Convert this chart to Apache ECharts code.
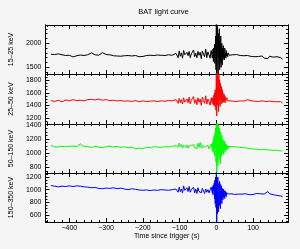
<!DOCTYPE html>
<html><head><meta charset="utf-8">
<script src="https://cdn.jsdelivr.net/npm/echarts@6/dist/echarts.min.js"></script>
<style>html,body{margin:0;padding:0;background:#f5f5f5}#c{width:300px;height:249px}</style>
</head><body><div id="c"></div><script>
// time since trigger (s)
const times = [
-450,-440,-430,-420,-410,-400,-390,-380,-370,-360,-350,-340,-330,-320,-310,-300,-290,-280,-270,-260,-250,-240,-230,-220,-210,-200,-190,-180,-170,-160,-150,-140,-130,-120,-110,
-107,-104,-101,-98,-95,-92,-89,-86,-83,-80,-77,-74,-71,-68,-65,-62,-59,-56,-53,-50,-47,-44,-41,-38,-35,-32,-29,-26,-23,-20,-17,-14,
-12,-11,-10,-9,-8,-7,-6,-5,-4,-3,-2,-1,0,1,2,3,4,5,6,7,8,9,10,11,12,13,14,15,16,17,18,19,20,21,22,23,24,25,26,27,28,29,30,31,32,33,34,35,36,
40,45,50,55,60,65,70,75,80,85,90,95,100,105,110,115,120,125,130,135,140,145,150,155,160,165,170,175,180];

const rate15_25 = [
1770,1765,1780,1760,1745,1750,1715,1740,1755,1745,1760,1800,1760,1750,1805,1765,1760,1740,1735,1730,1740,1745,1735,1745,1720,1725,1745,1750,1745,1755,1750,1745,1760,1750,1790,
1820,1700,1840,1730,1800,1690,1850,1760,1720,1810,1740,1830,1700,1780,1760,1860,1720,1790,1700,1830,1750,1810,1680,1840,1770,1720,1880,1700,1820,1760,1690,1850,
1820,1690,1760,1880,1620,1900,1700,1980,1580,1850,2150,1450,2500,1350,1900,2350,1500,1300,2200,1700,2300,1450,1950,1600,2150,1500,1850,2000,1550,1900,1650,1950,1700,1820,1650,1900,1720,1800,1690,1850,1740,1790,1830,1720,1800,1760,1790,1750,1780,
1770,1760,1755,1765,1750,1745,1755,1740,1735,1745,1730,1725,1735,1720,1715,1725,1700,1735,1690,1720,1680,1730,1690,1710,1670,1720,1680,1700,1670];

const rate25_50 = [
1475,1460,1480,1455,1485,1470,1490,1475,1480,1470,1490,1495,1485,1500,1480,1490,1475,1480,1470,1475,1465,1470,1460,1475,1455,1470,1460,1465,1470,1460,1470,1465,1475,1470,1490,
1500,1430,1510,1440,1490,1420,1520,1450,1430,1500,1440,1530,1420,1480,1460,1540,1430,1490,1410,1520,1450,1500,1400,1530,1470,1430,1550,1420,1500,1460,1400,1520,
1490,1430,1520,1460,1400,1560,1420,1600,1380,1650,1480,1320,1950,1230,1750,1950,1400,1850,1300,1900,1500,1800,1380,1750,1600,1420,1700,1480,1650,1440,1600,1520,1450,1580,1470,1550,1440,1530,1480,1500,1450,1520,1470,1490,1460,1500,1470,1480,1470,
1470,1465,1470,1460,1465,1470,1460,1465,1470,1490,1515,1470,1460,1465,1455,1460,1450,1470,1445,1460,1450,1465,1445,1460,1450,1455,1445,1460,1430];

const rate50_150 = [
1110,1085,1090,1095,1090,1095,1100,1090,1130,1095,1090,1080,1095,1085,1075,1090,1100,1085,1095,1080,1090,1075,1085,1060,1070,1065,1080,1075,1090,1085,1080,1090,1085,1095,1110,
1130,1080,1140,1090,1120,1070,1110,1090,1080,1115,1070,1100,1085,1110,1090,1120,1075,1100,1060,1140,1080,1150,1070,1110,1080,1060,1090,1070,1110,1060,1050,1130,
1120,1040,1150,1010,1200,1060,1240,960,1280,1100,1350,880,1450,700,1300,1420,820,1200,1400,900,1350,1000,1250,850,1300,1100,950,1250,1000,1200,1050,1180,980,1150,1050,1170,1020,1130,1060,1120,1040,1110,1070,1100,1060,1095,1080,1090,1085,
1090,1085,1090,1080,1085,1075,1080,1070,1075,1070,1060,1070,1060,1065,1055,1060,1050,1060,1050,1055,1045,1050,1040,1050,1040,1045,1035,1040,1030];

const rate150_350 = [
1065,1055,1045,1055,1050,1060,1050,1060,1055,1045,1040,1030,1035,1020,1015,1025,1020,1030,1015,1025,1010,1000,1015,1005,995,990,995,985,995,990,1000,995,990,1000,1010,
1030,960,1040,970,1010,950,1060,990,960,1030,970,1050,960,1000,980,1040,950,1010,940,1030,970,1000,950,1020,980,940,1010,960,1000,950,930,1040,
1010,950,1050,920,1070,990,1100,860,1150,780,1200,720,1280,480,1150,620,1200,900,650,1100,750,1130,820,700,1080,850,1050,780,1020,900,840,1010,880,990,920,860,980,910,960,890,950,930,920,950,925,945,930,940,935,
935,930,925,935,930,920,930,925,935,930,920,935,925,930,940,925,935,920,930,945,970,935,930,920,925,910,905,900,890];

const bandNames = ['15\u201325 keV','25\u201350 keV','50\u2013150 keV','150\u2013350 keV'];
const xTickLabels = [-400,-300,-200,-100,0,100];
const xMinorTicks = [-460,-440,-420,-400,-380,-360,-340,-320,-300,-280,-260,-240,-220,-200,-180,-160,-140,-120,-100,-80,-60,-40,-20,0,20,40,60,80,100,120,140,160,180];
const yTickLabels = [[1500,2000],[1200,1400,1600,1800],[800,1000,1200,1400],[600,800,1000,1200]];
const yMinorTicks = [
 [1400,1500,1600,1700,1800,1900,2000,2100,2200,2300],
 [1150,1200,1250,1300,1350,1400,1450,1500,1550,1600,1650,1700,1750,1800,1850],
 [750,800,850,900,950,1000,1050,1100,1150,1200,1250,1300,1350,1400],
 [500,550,600,650,700,750,800,850,900,950,1000,1050,1100,1150,1200,1250]];

const seriesData = [rate15_25, rate25_50, rate50_150, rate150_350];
const colors = ['#000000','#ff0000','#00ff00','#0000ff'];
const yRanges = [[1360,2380],[1100,1900],[720,1410],[490,1263]];
const bounds = [25,74,124,173,222];
const FONT = 'Liberation Sans, Arial, sans-serif';

const grids=[], xAxes=[], yAxes=[], series=[];
for (let i=0;i<4;i++){
  grids.push({left:39,right:12,top:bounds[i],height:bounds[i+1]-bounds[i],containLabel:false});
  const last = i===3;
  const mkX = (pos, ticks, len, showLab) => ({
    type:'value', gridIndex:i, position:pos, min:-465, max:195,
    axisLine:{show:true,onZero:false,lineStyle:{color:'#000',width:1}},
    axisTick:{show:true,inside:true,length:len,customValues:ticks,lineStyle:{color:'#000',width:1}},
    axisLabel:{show:showLab,customValues:xTickLabels,color:'#000',fontSize:7,fontFamily:FONT,margin:3,
      formatter:v=>String(v).replace('-','\u2212')},
    splitLine:{show:false},
    name: (showLab? 'Time since trigger (s)':''), nameLocation:'middle', nameGap:10,
    nameTextStyle:{color:'#000',fontSize:7,fontFamily:FONT}
  });
  xAxes.push(mkX('bottom', xTickLabels, 4, last));
  xAxes.push(mkX('bottom', xMinorTicks, 2, false));
  xAxes.push(mkX('top', xTickLabels, 4, false));
  xAxes.push(mkX('top', xMinorTicks, 2, false));
  const mkY = (pos, ticks, len, showLab) => ({
    type:'value', gridIndex:i, position:pos, min:yRanges[i][0], max:yRanges[i][1],
    axisLine:{show:true,onZero:false,lineStyle:{color:'#000',width:1}},
    axisTick:{show:true,inside:true,length:len,customValues:ticks,lineStyle:{color:'#000',width:1}},
    axisLabel:{show:showLab,customValues:yTickLabels[i],color:'#000',fontSize:7,fontFamily:FONT,margin:4,hideOverlap:false,
      formatter:v=>String(v)},
    splitLine:{show:false},
    name:(showLab? bandNames[i]:''), nameLocation:'middle', nameRotate:90, nameGap:20,
    nameTextStyle:{color:'#000',fontSize:7,fontFamily:FONT}
  });
  yAxes.push(mkY('left', yTickLabels[i], 4, true));
  yAxes.push(mkY('left', yMinorTicks[i], 2, false));
  yAxes.push(mkY('right', yTickLabels[i], 4, false));
  yAxes.push(mkY('right', yMinorTicks[i], 2, false));
  series.push({
    type:'line', xAxisIndex:i*4, yAxisIndex:i*4, showSymbol:false, symbol:'none',
    data: times.map((t,k)=>[t, seriesData[i][k]]),
    lineStyle:{color:colors[i],width:1}, itemStyle:{color:colors[i]}, clip:true, z:1
  });
}

const chart = echarts.init(document.getElementById('c'), null, {renderer:'canvas'});
chart.setOption({
  backgroundColor:'#f5f5f5',
  animation:false,
  graphic:[{type:'text', x:163.5, y:12, style:{text:'BAT light curve', fill:'#000', font:'7.5px '+FONT, align:'center', verticalAlign:'middle'}}],
  grid:grids, xAxis:xAxes, yAxis:yAxes, series:series
});
</script></body></html>
